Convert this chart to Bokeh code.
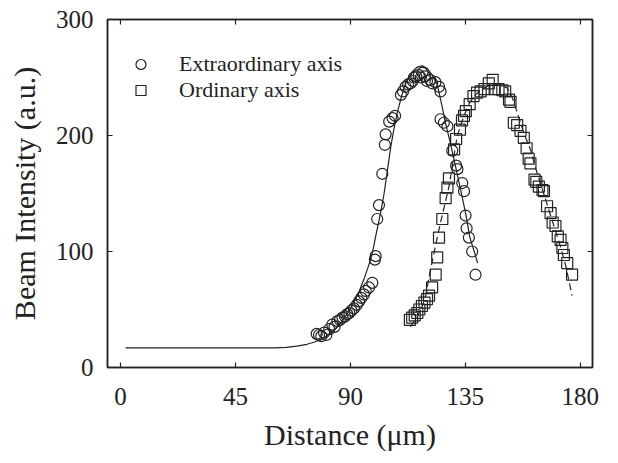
from bokeh.plotting import figure
from bokeh.models import Range1d, FixedTicker, LinearAxis, Legend, CustomJSTickFormatter
from bokeh.embed import file_html
from bokeh.resources import INLINE

# ---- data ----
ext_x = [76.8, 77.7, 78.6, 79.7, 80.6, 81.7, 82.9, 83.8, 84.9, 85.9, 86.9, 87.9, 88.8, 89.6,
         90.4, 91.4, 92.5, 93.4, 94.3, 95.3, 96.0, 97.3, 98.6, 99.6, 99.9, 100.5, 101.2, 102.5,
         103.5, 103.8, 105.2, 106.5, 107.5, 109.8, 110.6, 111.6, 112.6, 113.6, 114.4, 114.9,
         115.8, 116.8, 117.6, 118.2, 119.2, 120.0, 121.2, 122.0, 123.3, 124.7, 125.3, 125.3,
         126.6, 128.0, 129.9, 131.4, 131.9, 133.8, 134.5, 135.1, 135.5, 136.4, 137.7, 139.0]
ext_y = [29, 28, 27, 30, 28, 33, 37, 35, 40, 41, 43, 44, 46, 47,
         49, 51, 54, 57, 60, 63, 66, 69, 73, 93, 96, 128, 140, 167,
         192, 201, 212, 215, 217, 235, 238, 242, 244, 245, 247, 250,
         251, 252, 250, 254, 251, 247, 248, 245, 246, 242, 238, 214,
         211, 208, 187, 174, 171, 159, 152, 131, 120, 112, 100, 80]

ord_x = [113.3, 114.2, 115.2, 116.2, 117.0, 118.0, 119.0, 120.0, 120.8, 122.0, 123.4, 124.0,
         124.7, 126.0, 127.3, 128.0, 128.6, 130.6, 131.4, 132.9, 133.7, 134.5, 135.2, 136.7,
         138.2, 139.6, 141.0, 142.5, 144.2, 145.7, 146.5, 148.0, 149.5, 150.6, 152.1, 152.7,
         154.0, 155.3, 156.6, 157.9, 159.0, 159.8, 160.5, 162.1, 162.8, 163.8, 165.2, 165.8,
         167.0, 168.4, 169.2, 170.3, 171.2, 172.3, 173.0, 173.6, 174.9, 176.8]
ord_y = [41, 43, 45, 47, 50, 53, 56, 59, 62, 69, 80, 95,
         112, 128, 146, 155, 163, 188, 197, 205, 213, 217, 221, 227,
         234, 237, 238, 240, 245, 248, 240, 240, 239, 238, 231, 229,
         211, 209, 204, 198, 189, 180, 176, 162, 160, 156, 153, 152,
         139, 133, 125, 122, 113, 110, 103, 97, 90, 80]

fit_ext_x = [2, 20, 40, 60, 65, 69, 73, 76, 79.7, 83, 86.2, 89, 91.4, 93.5, 95.3, 96.7, 97.9,
             99.0, 99.9, 101.8, 103.2, 104.5, 105.8, 107.0, 108.4, 109.7, 111.0, 112.3, 114.2,
             116.2, 118.2, 120.0, 122.0, 124.0, 126.0, 127.3, 129.0, 130.6, 132.0, 133.2,
             135.2, 136.8, 138.5, 139.8]
fit_ext_y = [17, 17, 17, 17, 17.3, 18.4, 20, 22, 25.6, 31, 38.5, 47, 56, 66, 76, 85, 93,
             103, 113, 133, 150, 170, 190, 205, 220, 231, 241, 248, 255,
             259, 260, 258, 252, 244, 224, 210, 195, 179, 165, 153,
             132, 112, 100, 90]

fit_ord_x = [113.5, 116, 118, 119.5, 120.8, 122.4, 124, 125.4, 126.6, 128.6, 130.2, 131.8,
             133.2, 134.5, 136.4, 138.4, 141, 143.6, 147.5, 151.4, 153.5, 155.3, 157.9, 160.5,
             162.5, 164.4, 166.4, 168.4, 170.4, 172.3, 174.5, 176.8]
fit_ord_y = [35, 43, 52, 62, 78, 95, 112, 126, 137, 156, 178, 199,
             209, 217, 227, 234, 239, 242.5, 244, 241, 232, 220, 202, 188,
             172, 159, 145, 131, 117, 104, 86, 62]

x_ticks = [0, 45, 90, 135, 180]
y_ticks = [0, 100, 200, 300]

FONT = "Liberation Serif"
INK = "#222222"

p = figure(width=610, height=455, x_range=Range1d(-5.1, 184.8), y_range=Range1d(0, 300),
           output_backend="svg", toolbar_location=None,
           min_border_left=107, min_border_right=18, min_border_top=19, min_border_bottom=88)
p.xgrid.visible = False
p.ygrid.visible = False
p.outline_line_color = INK
p.outline_line_width = 1.5
p.background_fill_color = "white"
p.border_fill_color = "white"

def style_axis(ax, ticks, labels=True):
    ax.ticker = FixedTicker(ticks=ticks)
    ax.major_tick_in = 5
    ax.major_tick_out = 0
    ax.minor_tick_line_color = None
    ax.axis_line_color = INK
    ax.axis_line_width = 1.5
    ax.major_tick_line_color = INK
    ax.major_tick_line_width = 1.2
    ax.major_label_text_font = FONT
    ax.major_label_text_font_size = "25px"
    ax.major_label_text_color = INK
    ax.axis_label_text_font = FONT
    ax.axis_label_text_font_style = "normal"
    ax.axis_label_text_font_size = "30px"
    ax.axis_label_text_color = INK
    if not labels:
        ax.formatter = CustomJSTickFormatter(code="return ''")
        ax.major_label_standoff = 0

style_axis(p.xaxis[0], x_ticks)
style_axis(p.yaxis[0], y_ticks)
p.xaxis[0].axis_label = "Distance (\u03bcm)"
p.yaxis[0].axis_label = "Beam Intensity (a.u.)"
p.xaxis[0].major_label_standoff = 20
p.xaxis[0].axis_label_standoff = 10
p.yaxis[0].major_label_standoff = 14
p.yaxis[0].axis_label_standoff = 12

top = LinearAxis()
style_axis(top, x_ticks, labels=False)
p.add_layout(top, "above")
right = LinearAxis()
style_axis(right, y_ticks, labels=False)
p.add_layout(right, "right")

p.line(fit_ext_x, fit_ext_y, line_color=INK, line_width=1.2)
p.line(fit_ord_x, fit_ord_y, line_color=INK, line_width=1.2, line_dash="7 4")

r_c = p.scatter(ext_x, ext_y, marker="circle", size=11, fill_color=None,
                line_color=INK, line_width=1.2)
r_s = p.scatter(ord_x, ord_y, marker="square", size=11, fill_color=None,
                line_color=INK, line_width=1.2)

legend = Legend(items=[("Extraordinary axis", [r_c]), ("Ordinary axis", [r_s])],
                location=(21, 264), border_line_color=None, background_fill_alpha=0,
                label_text_font=FONT, label_text_font_size="22px", label_text_color=INK,
                glyph_width=25, glyph_height=26, label_height=26, spacing=0,
                padding=0, margin=0, label_standoff=26)
p.add_layout(legend)

open("out.html", "w").write(file_html(p, INLINE))
